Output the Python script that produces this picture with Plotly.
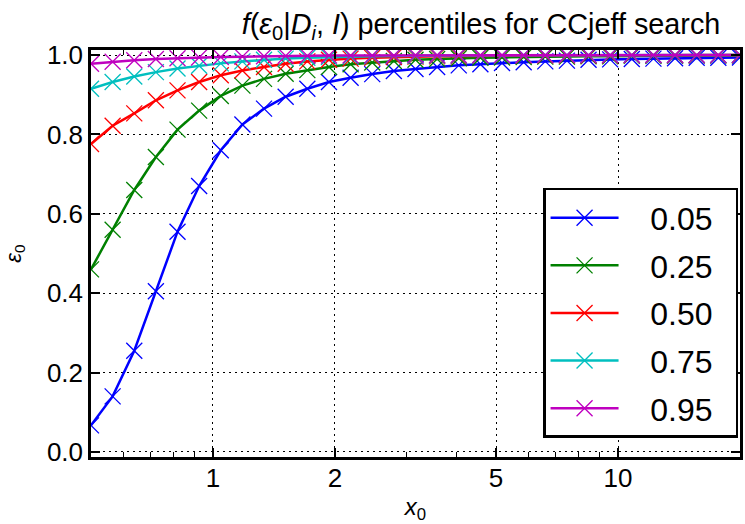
import plotly.graph_objects as go

# x0 sample points (log-spaced between 0.5 and 20)
x0 = [0.5, 0.5654, 0.6394, 0.7230, 0.8176, 0.9245, 1.0455, 1.1822, 1.3369, 1.5118,
      1.7100, 1.9337, 2.1867, 2.4727, 2.7962, 3.1623, 3.5759, 4.0437, 4.5727, 5.1709,
      5.8480, 6.6128, 7.4780, 8.4560, 9.5620, 10.813, 12.228, 13.827, 15.636, 17.682, 20.0]

p05 = [0.067, 0.140, 0.255, 0.405, 0.555, 0.670, 0.760, 0.825, 0.865, 0.895,
       0.915, 0.932, 0.943, 0.952, 0.960, 0.965, 0.970, 0.974, 0.977, 0.980,
       0.982, 0.984, 0.986, 0.988, 0.989, 0.990, 0.991, 0.992, 0.993, 0.993, 0.994]
p25 = [0.460, 0.560, 0.660, 0.743, 0.812, 0.860, 0.897, 0.923, 0.940, 0.953,
       0.962, 0.970, 0.977, 0.981, 0.985, 0.988, 0.990, 0.992, 0.993, 0.994,
       0.995, 0.996, 0.996, 0.997, 0.997, 0.998, 0.998, 0.998, 0.999, 0.999, 0.999]
p50 = [0.776, 0.822, 0.853, 0.886, 0.911, 0.932, 0.949, 0.961, 0.970, 0.978,
       0.984, 0.988, 0.991, 0.993, 0.995, 0.996, 0.997, 0.997, 0.998, 0.998,
       0.999, 0.999, 0.999, 0.999, 0.999, 1.000, 1.000, 1.000, 1.000, 1.000, 1.000]
p75 = [0.915, 0.932, 0.946, 0.957, 0.966, 0.973, 0.979, 0.984, 0.988, 0.991,
       0.993, 0.995, 0.996, 0.997, 0.998, 0.998, 0.999, 0.999, 0.999, 0.999,
       1.000, 1.000, 1.000, 1.000, 1.000, 1.000, 1.000, 1.000, 1.000, 1.000, 1.000]
p95 = [0.978, 0.983, 0.987, 0.990, 0.992, 0.994, 0.995, 0.996, 0.997, 0.998,
       0.998, 0.999, 0.999, 0.999, 0.999, 1.000, 1.000, 1.000, 1.000, 1.000,
       1.000, 1.000, 1.000, 1.000, 1.000, 1.000, 1.000, 1.000, 1.000, 1.000, 1.000]

labels = ["0.05", "0.25", "0.50", "0.75", "0.95"]
series = [p05, p25, p50, p75, p95]
colors = ["#0000ff", "#008000", "#ff0000", "#00bfbf", "#bf00bf"]

xtick_vals = [1, 2, 5, 10]
xtick_text = ["1", "2", "5", "10"]
xminor_vals = [0.6, 0.7, 0.8, 0.9, 3, 4, 6, 7, 8, 9, 20]
ytick_vals = [0.0, 0.2, 0.4, 0.6, 0.8, 1.0]

FONT = "Liberation Sans, Arial, Helvetica, sans-serif"
NB = "\u00a0"

fig = go.Figure()
for lab, ys, c in zip(labels, series, colors):
    fig.add_trace(go.Scatter(
        x=x0, y=ys, mode="lines+markers", name=NB * 3 + lab + NB * 2,
        legendgroup=lab,
        line=dict(color=c, width=2.5),
        marker=dict(symbol="x-thin", size=16, color=c, line=dict(color=c, width=1.3)),
    ))

axis_common = dict(
    showline=True, linecolor="black", linewidth=2.5, mirror="allticks",
    ticks="inside", ticklen=9, tickwidth=1.5, tickcolor="black",
    showgrid=True, gridcolor="black", griddash="2px,4px", gridwidth=1.4,
    zeroline=False, tickfont=dict(family=FONT, size=26, color="black"),
)

fig.update_layout(
    width=745, height=524,
    margin=dict(l=91, r=2, t=50, b=67),
    paper_bgcolor="white", plot_bgcolor="white",
    font=dict(family=FONT, color="black"),
    title=dict(
        text="<i>f</i>(<i>ε</i><sub>0</sub>|<i>D<sub>i</sub></i>, <i>I</i>) percentiles for CCjeff search",
        x=481 / 745, xanchor="center", y=1 - 24 / 524, yanchor="middle",
        font=dict(family=FONT, size=28.8, color="black"),
    ),
    xaxis=dict(
        type="log", range=[-0.30103, 1.30103],
        tickmode="array", tickvals=xtick_vals, ticktext=xtick_text,
        minor=dict(tickmode="array", tickvals=xminor_vals, ticks="inside",
                   ticklen=5, tickwidth=1.2, tickcolor="black", showgrid=False),
        ticklabelstandoff=-4,
        title=dict(text="<i>x</i><sub>0</sub>", font=dict(family=FONT, size=24), standoff=8),
        **axis_common,
    ),
    yaxis=dict(
        range=[-0.0127, 1.0127],
        tickmode="array", tickvals=ytick_vals, ticktext=["%.1f" % v for v in ytick_vals],
        title=dict(text="<i>ε</i><sub>0</sub>", font=dict(family=FONT, size=22), standoff=20),
        **axis_common,
    ),
    legend=dict(
        x=0.997, xanchor="right", y=0.661, yanchor="top",
        bordercolor="black", borderwidth=2.5, bgcolor="white",
        font=dict(family=FONT, size=32, color="black"),
        itemwidth=68, tracegroupgap=3,
    ),
    showlegend=True,
)

fig.write_html("out.html")
